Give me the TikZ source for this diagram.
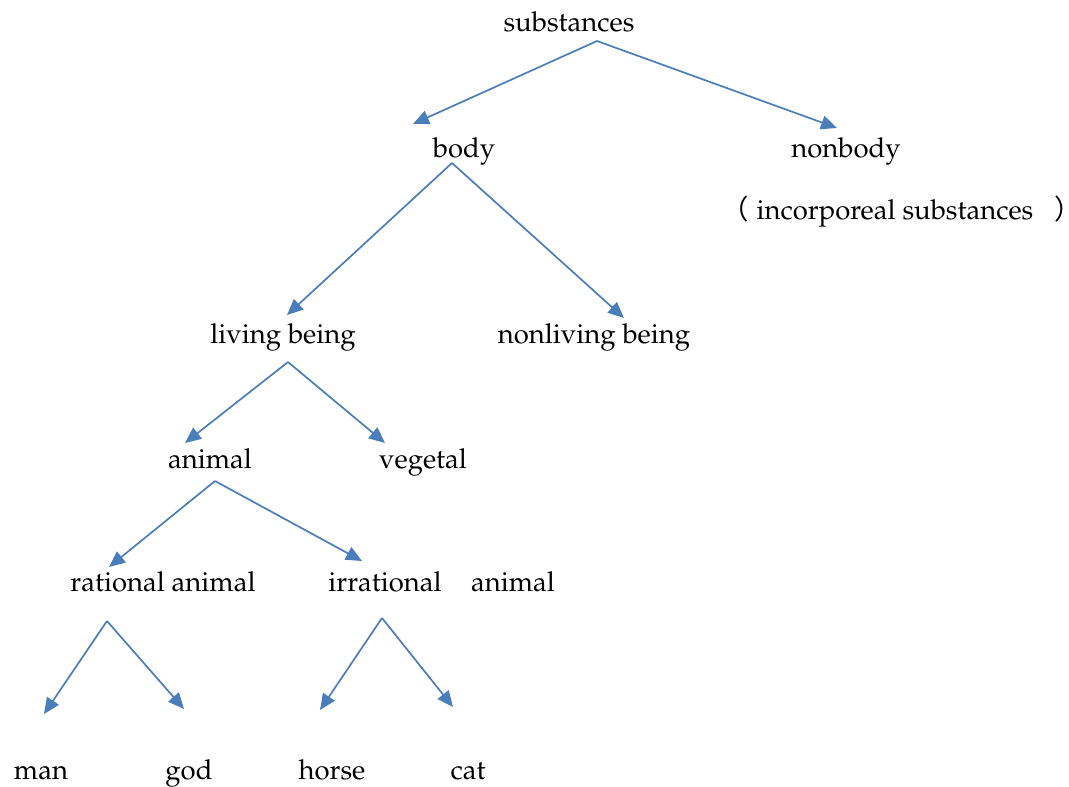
\documentclass[tikz,border=0pt]{standalone}
\usepackage{fontspec}
\newfontfamily\cjk{Noto Sans CJK SC}
\usepackage[T1]{fontenc}
\renewcommand{\rmdefault}{ppl}
\usetikzlibrary{arrows.meta}
\definecolor{arrowblue}{RGB}{74,126,187}
\tikzset{
  lbl/.style={inner sep=0pt, anchor=base, font=\fontsize{27.5}{30}\selectfont},
  conn/.style={draw=arrowblue, line width=1.7pt, -{Triangle[length=16pt,width=14pt]}}
}
\begin{document}
\begin{tikzpicture}[x=1pt,y=-1pt]
\useasboundingbox (0,0) rectangle (1069,787);
% labels
\node[lbl] (subst) at (569,31) {substances};
\node[lbl] (body) at (464,157) {body};
\node[lbl] (nonbody) at (846,157) {nonbody};
\node[lbl,anchor=base west] (incorp) at (721,219) {{\cjk （}\hspace{8pt}incorporeal substances\hspace{21pt}\makebox[8pt][l]{\cjk ）}};
\node[lbl] (living) at (283,343) {living being};
\node[lbl] (nonliving) at (594,343) {nonliving being};
\node[lbl] (animal) at (210,468) {animal};
\node[lbl] (vegetal) at (423,468) {vegetal};
\node[lbl] (rational) at (163,591) {rational animal};
\node[lbl] (irrational) at (385,591) {irrational};
\node[lbl] (animal2) at (513,591) {animal};
\node[lbl] (man) at (41,779) {man};
\node[lbl] (god) at (189,779) {god};
\node[lbl] (horse) at (332,779) {horse};
\node[lbl] (cat) at (468,779) {cat};
% connector endpoints
\coordinate (sSubst) at (597,41);
\coordinate (tBody) at (413,124);
\coordinate (tNonbody) at (837,128);
\coordinate (sBody) at (452,163);
\coordinate (tLiving) at (287,315);
\coordinate (tNonliving) at (624,318);
\coordinate (sLiving) at (288,362);
\coordinate (tAnimal) at (185,443);
\coordinate (tVegetal) at (385,443);
\coordinate (sAnimal) at (215,481);
\coordinate (tRational) at (109,567);
\coordinate (tIrrational) at (362,561);
\coordinate (sRational) at (107,621);
\coordinate (tMan) at (44,714);
\coordinate (tGod) at (184,709);
\coordinate (sIrrational) at (382,618);
\coordinate (tHorse) at (320,710);
\coordinate (tCat) at (453,707);
% connectors
\draw[conn] (sSubst) -- (tBody);
\draw[conn] (sSubst) -- (tNonbody);
\draw[conn] (sBody) -- (tLiving);
\draw[conn] (sBody) -- (tNonliving);
\draw[conn] (sLiving) -- (tAnimal);
\draw[conn] (sLiving) -- (tVegetal);
\draw[conn] (sAnimal) -- (tRational);
\draw[conn] (sAnimal) -- (tIrrational);
\draw[conn] (sRational) -- (tMan);
\draw[conn] (sRational) -- (tGod);
\draw[conn] (sIrrational) -- (tHorse);
\draw[conn] (sIrrational) -- (tCat);
\end{tikzpicture}
\end{document}
